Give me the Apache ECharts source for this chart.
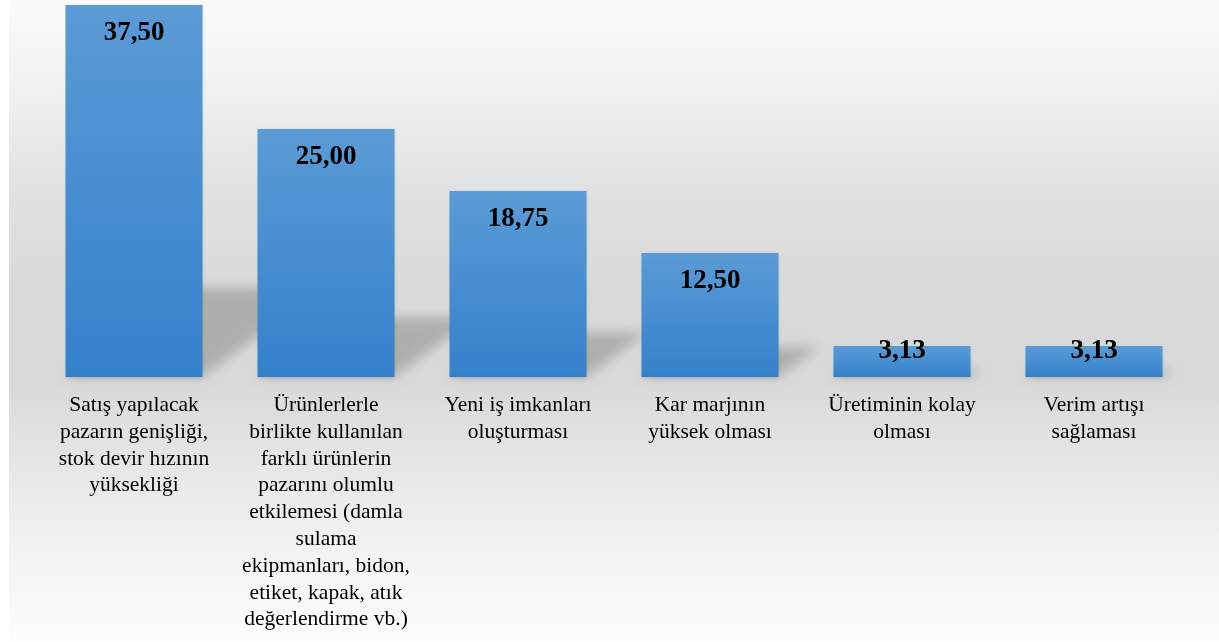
<!DOCTYPE html>
<html>
<head>
<meta charset="utf-8">
<script src="https://cdn.jsdelivr.net/npm/echarts@6/dist/echarts.min.js"></script>
<style>
html,body{margin:0;padding:0;background:#fff;}
#chart{width:1219px;height:642px;}
</style>
</head>
<body>
<div id="chart"></div>
<script>
// kategoriler ve yüzde değerleri
var categories=[
	"Satış yapılacak\npazarın genişliği,\nstok devir hızının\nyüksekliği",
	"Ürünlerlerle\nbirlikte kullanılan\nfarklı ürünlerin\npazarını olumlu\netkilemesi (damla\nsulama\nekipmanları, bidon,\netiket, kapak, atık\ndeğerlendirme vb.)",
	"Yeni iş imkanları\noluşturması",
	"Kar marjının\nyüksek olması",
	"Üretiminin kolay\nolması",
	"Verim artışı\nsağlaması"
];
var values=[37.50,25.00,18.75,12.50,3.13,3.13];

var BAR_W=137;
var OFF=3000; //golge cizimi icin ekran disina kaydirma
var myChart=echarts.init(document.getElementById('chart'));

// bar arkasindaki egik golge (sadece bulanik golgesi gorunur)
function renderShadow(params,api){
	var i=api.value(0);
	var top=api.coord([i,api.value(1)]);
	var base=api.coord([i,0]);
	var h=base[1]-top[1];
	var x0=base[0]-BAR_W/2-OFF, x1=base[0]+BAR_W/2-OFF, b=base[1];
	var dx=h*0.324, dy=h*0.24;
	return {
		type:'polygon',
		shape:{points:[[x0,b],[x1,b],[x1+dx,b-dy],[x0+dx,b-dy]]},
		style:{fill:'#aaaaaa',shadowBlur:12,shadowColor:'rgba(160,160,160,0.75)',shadowOffsetX:OFF}
	};
}

var barData=values.map(function(v){
	return {value:v,label:{position:['50%', v<5 ? 5 : 28.5]}};
});

var option={
	animation:false,
	graphic:[{
		type:'rect',
		z:-10,
		shape:{x:9,y:0,width:1210,height:642},
		style:{fill:new echarts.graphic.LinearGradient(0,0,0,1,[
			{offset:0,color:'#fbfbfb'},
			{offset:0.16,color:'#efefef'},
			{offset:0.31,color:'#e0e0e0'},
			{offset:0.45,color:'#d9d9d9'},
			{offset:0.6,color:'#d9d9d9'},
			{offset:0.72,color:'#e6e6e6'},
			{offset:0.86,color:'#f3f3f3'},
			{offset:1,color:'#fdfdfd'}
		])}
	}],
	grid:{left:38,right:29,top:5,bottom:265,containLabel:false},
	xAxis:{
		type:'category',
		data:categories,
		axisLine:{show:false},
		axisTick:{show:false},
		axisLabel:{
			interval:0,
			margin:15,
			fontFamily:'Liberation Serif',
			fontSize:21.5,
			lineHeight:26.8,
			color:'#000',
			align:'center',
			verticalAlign:'top'
		}
	},
	yAxis:{type:'value',min:0,max:37.5,show:false,splitLine:{show:false}},
	series:[{
		type:'custom',
		z:1,
		renderItem:renderShadow,
		data:values.map(function(v,i){return [i,v];}),
		silent:true
	},{
		type:'bar',
		z:2,
		barWidth:BAR_W,
		data:barData,
		itemStyle:{
			color:new echarts.graphic.LinearGradient(0,0,0,1,[
				{offset:0,color:'#5b9bd6'},
				{offset:1,color:'#3481cb'}
			]),
			shadowColor:'rgba(0,0,0,0.15)',
			shadowBlur:3,
			shadowOffsetY:1
		},
		label:{
			show:true,
			align:'center',
			verticalAlign:'middle',
			fontFamily:'Liberation Serif',
			fontWeight:'bold',
			fontSize:27,
			color:'#000',
			formatter:function(p){return p.value.toFixed(2).replace('.',',');}
		}
	}]
};
myChart.setOption(option);
</script>
</body>
</html>
